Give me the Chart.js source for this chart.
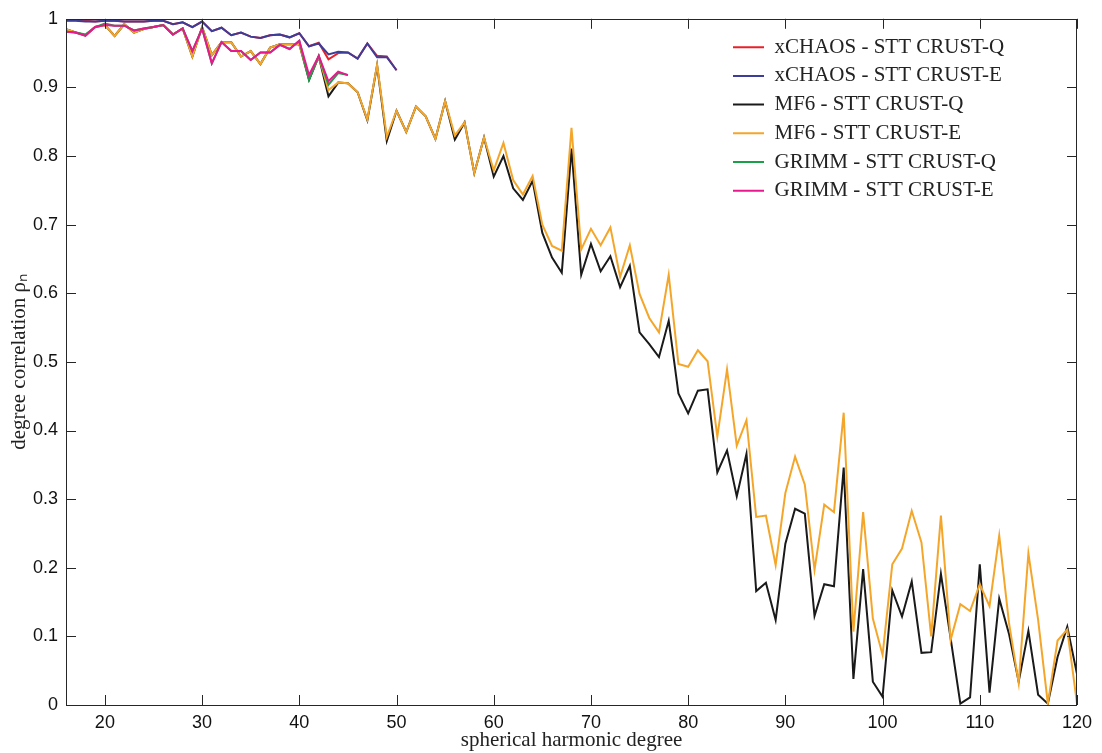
<!DOCTYPE html>
<html>
<head>
<meta charset="utf-8">
<script src="https://cdn.jsdelivr.net/npm/chart.js@4.4.0/dist/chart.umd.min.js"></script>
<style>
html,body{margin:0;padding:0;background:#fff;}
#wrap{width:1102px;height:753px;position:relative;}
</style>
</head>
<body>
<div id="wrap"><canvas id="c" width="1102" height="753"></canvas></div>
<script>
// spherical harmonic degrees
const degrees = [16,17,18,19,20,21,22,23,24,25,26,27,28,29,30,31,32,33,34,35,36,37,38,39,40,
  41,42,43,44,45,46,47,48,49,50,51,52,53,54,55,56,57,58,59,60,61,62,63,64,65,66,67,68,69,70,
  71,72,73,74,75,76,77,78,79,80,81,82,83,84,85,86,87,88,89,90,91,92,93,94,95,96,97,98,99,100,
  101,102,103,104,105,106,107,108,109,110,111,112,113,114,115,116,117,118,119,120];

const xchaosQ = [0.998,0.998,0.997,0.996,0.997,0.997,0.996,0.996,0.996,0.997,0.997,0.992,0.995,0.988,0.996,
  0.982,0.987,0.976,0.980,0.974,0.972,0.976,0.977,0.973,0.979,0.960,0.965,0.941,0.950,0.951,0.942,0.964,0.946,0.945,0.925];
const xchaosE = [0.997,0.997,0.996,0.996,0.997,0.997,0.996,0.996,0.996,0.997,0.997,0.992,0.995,0.988,0.996,
  0.982,0.987,0.976,0.980,0.974,0.972,0.976,0.977,0.973,0.979,0.960,0.964,0.948,0.952,0.951,0.942,0.964,0.944,0.944,0.925];
const mf6Q = [0.985,0.980,0.976,0.988,0.991,0.975,0.992,0.980,0.985,0.988,0.991,0.977,0.986,0.945,0.988,
  0.947,0.966,0.966,0.945,0.953,0.934,0.958,0.963,0.963,0.963,0.911,0.945,0.887,0.907,0.906,0.893,0.852,0.932,0.822,0.866,
  0.835,0.872,0.858,0.825,0.880,0.824,0.849,0.775,0.827,0.770,0.800,0.753,0.736,0.764,0.688,0.652,0.630,0.811,0.627,0.672,
  0.632,0.654,0.609,0.640,0.543,0.526,0.507,0.560,0.454,0.425,0.458,0.460,0.339,0.371,0.304,0.366,0.166,0.178,0.124,0.235,
  0.286,0.279,0.130,0.176,0.173,0.346,0.038,0.198,0.034,0.012,0.167,0.129,0.180,0.076,0.077,0.191,0.097,0.002,0.011,0.205,
  0.018,0.155,0.104,0.034,0.108,0.015,0.002,0.070,0.114,0.045];
const mf6E = [0.985,0.980,0.976,0.988,0.991,0.975,0.992,0.980,0.985,0.988,0.991,0.977,0.986,0.945,0.988,
  0.947,0.966,0.966,0.945,0.953,0.934,0.958,0.963,0.963,0.963,0.914,0.945,0.896,0.907,0.906,0.893,0.853,0.933,0.828,0.866,
  0.835,0.872,0.858,0.825,0.880,0.830,0.849,0.775,0.827,0.779,0.819,0.765,0.744,0.771,0.700,0.669,0.662,0.841,0.664,0.694,
  0.670,0.696,0.624,0.670,0.599,0.564,0.543,0.627,0.497,0.493,0.517,0.501,0.391,0.489,0.378,0.415,0.274,0.276,0.204,0.309,
  0.362,0.321,0.197,0.292,0.281,0.426,0.107,0.281,0.126,0.073,0.205,0.228,0.283,0.237,0.100,0.276,0.095,0.147,0.137,0.176,
  0.144,0.247,0.120,0.032,0.221,0.124,0.002,0.094,0.110,0.002];
const grimmQ = [0.981,0.980,0.977,0.988,0.993,0.990,0.990,0.983,0.986,0.988,0.991,0.977,0.986,0.953,0.986,
  0.935,0.966,0.953,0.953,0.940,0.951,0.951,0.962,0.956,0.968,0.911,0.946,0.904,0.921,0.918];
const grimmE = [0.981,0.980,0.975,0.988,0.991,0.990,0.990,0.983,0.986,0.988,0.991,0.977,0.986,0.953,0.986,
  0.935,0.966,0.953,0.953,0.940,0.951,0.951,0.962,0.956,0.968,0.918,0.946,0.909,0.923,0.918];

const seriesNames = ['xCHAOS - STT CRUST-Q','xCHAOS - STT CRUST-E','MF6 - STT CRUST-Q','MF6 - STT CRUST-E','GRIMM - STT CRUST-Q','GRIMM - STT CRUST-E'];
const seriesColors = ['#e8202a','#3b3d99','#1a1a1a','#f4a62a','#19a049','#e8188e'];

const xTicks = [20,30,40,50,60,70,80,90,100,110,120];
const yTicks = [0,0.1,0.2,0.3,0.4,0.5,0.6,0.7,0.8,0.9,1];
const yTickLabels = ['0','0.1','0.2','0.3','0.4','0.5','0.6','0.7','0.8','0.9','1'];
const xTitle = 'spherical harmonic degree';
const yTitle = 'degree correlation \u03C1\u2099';

const allSeries = [xchaosQ, xchaosE, mf6Q, mf6E, grimmQ, grimmE];
const datasets = allSeries.map((vals, i) => ({
  label: seriesNames[i],
  data: vals.map((v, k) => ({x: degrees[k], y: v})),
  borderColor: seriesColors[i],
  backgroundColor: seriesColors[i],
  borderWidth: 2,
  pointRadius: 0,
  tension: 0,
  fill: false,
  order: 6 - i
}));

const axesBox = {
  id: 'axesBox',
  afterDatasetsDraw(chart) {
    const {ctx, chartArea: a, scales: {x, y}} = chart;
    ctx.save();
    ctx.strokeStyle = '#262626';
    ctx.lineWidth = 1;
    ctx.beginPath();
    xTicks.forEach(v => {
      const px = Math.round(x.getPixelForValue(v)) + 0.5;
      ctx.moveTo(px, a.bottom); ctx.lineTo(px, a.bottom - 10);
      ctx.moveTo(px, a.top); ctx.lineTo(px, a.top + 10);
    });
    yTicks.forEach(v => {
      const py = Math.round(y.getPixelForValue(v)) + 0.5;
      ctx.moveTo(a.left, py); ctx.lineTo(a.left + 10, py);
      ctx.moveTo(a.right, py); ctx.lineTo(a.right - 10, py);
    });
    ctx.stroke();
    ctx.strokeRect(Math.round(a.left) + 0.5, Math.round(a.top) + 0.5, Math.round(a.width) - 1, Math.round(a.height));
    ctx.restore();
  }
};

const legendMover = {
  id: 'legendMover',
  afterLayout(chart) {
    const lg = chart.legend;
    if (!lg) return;
    const w = lg.width, h = lg.height;
    lg.left = 733 - 7.7; lg.top = 29;
    lg.right = lg.left + w; lg.bottom = lg.top + h;
  }
};

new Chart(document.getElementById('c').getContext('2d'), {
  type: 'line',
  data: { datasets },
  options: {
    responsive: false,
    animation: false,
    devicePixelRatio: 1,
    layout: { padding: { top: 17, right: 25, left: 0, bottom: 0 } },
    scales: {
      x: {
        type: 'linear', min: 16, max: 120,
        afterBuildTicks: s => { s.ticks = xTicks.map(v => ({value: v})); },
        afterFit: s => { s.height = 48; },
        grid: { display: false, drawTicks: false },
        border: { display: false },
        ticks: { color: '#111', padding: 7, maxRotation: 0, autoSkip: false,
          font: { family: 'Liberation Sans, Arial, sans-serif', size: 18 } },
        title: { display: true, text: xTitle, color: '#222',
          font: { family: 'Liberation Serif, serif', size: 21 }, padding: { top: 0, bottom: 0 } }
      },
      y: {
        min: 0, max: 1,
        afterBuildTicks: s => { s.ticks = yTicks.map(v => ({value: v})); },
        afterFit: s => { s.width = 66; },
        grid: { display: false, drawTicks: false },
        border: { display: false },
        ticks: { color: '#111', padding: 8, autoSkip: false,
          callback: (v, i) => yTickLabels[i],
          font: { family: 'Liberation Sans, Arial, sans-serif', size: 18 } },
        title: { display: true, text: yTitle, color: '#222',
          font: { family: 'Liberation Serif, serif', size: 21 }, padding: { top: 7, bottom: 0 } }
      }
    },
    plugins: {
      tooltip: { enabled: false },
      legend: {
        position: 'chartArea',
        align: 'start',
        reverse: true,
        labels: {
          usePointStyle: true, pointStyle: 'line', pointStyleWidth: 31,
          boxHeight: 21,
          padding: 7.7,
          color: '#222',
          font: { family: 'Liberation Serif, serif', size: 21 }
        }
      }
    }
  },
  plugins: [axesBox, legendMover]
});
</script>
</body>
</html>
